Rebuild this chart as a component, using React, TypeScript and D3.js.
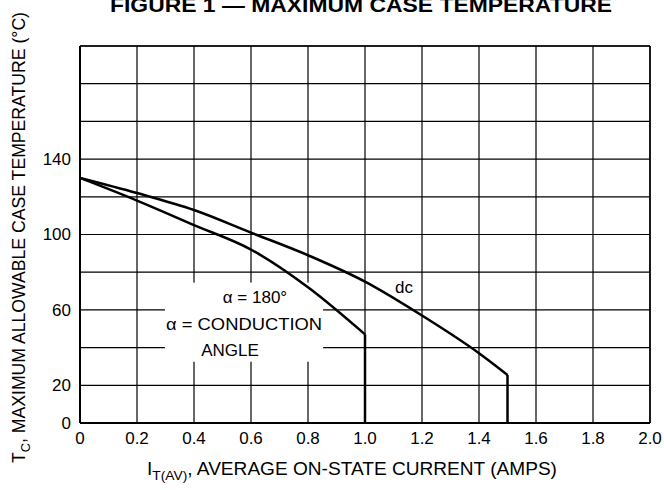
import React from "react";
import * as d3 from "d3";

const xTicks = [0, 0.2, 0.4, 0.6, 0.8, 1.0, 1.2, 1.4, 1.6, 1.8, 2.0];
const xTickLabels = ["0", "0.2", "0.4", "0.6", "0.8", "1.0", "1.2", "1.4", "1.6", "1.8", "2.0"];
const yGrid = [0, 20, 40, 60, 80, 100, 120, 140, 160, 180, 200];
const yTickLabels = [0, 20, 60, 100, 140];

const dcCurrent = [0, 0.2, 0.4, 0.6, 0.8, 1.0, 1.2, 1.4, 1.5];
const dcTemp = [130, 122, 113, 101, 89, 75, 57, 37, 25.5];
const a180Current = [0, 0.2, 0.4, 0.6, 0.8, 1.0];
const a180Temp = [130, 118, 105, 92, 72, 47];

const W = 664;
const H = 490;
const FONT = "'Liberation Sans', Arial, Helvetica, sans-serif";

export default function App() {
  const x = d3.scaleLinear().domain([0, 2]).range([80, 650]);
  const y = d3.scaleLinear().domain([0, 200]).range([423, 46]);

  const line = d3
    .line<[number, number]>()
    .x((d) => x(d[0]))
    .y((d) => y(d[1]))
    .curve(d3.curveMonotoneX);
  const straight = d3
    .line<[number, number]>()
    .x((d) => x(d[0]))
    .y((d) => y(d[1]));

  const dcPts = dcCurrent.map((c, i) => [c, dcTemp[i]] as [number, number]);
  const aPts = a180Current.map((c, i) => [c, a180Temp[i]] as [number, number]);
  const dcLast = dcPts[dcPts.length - 1];
  const aLast = aPts[aPts.length - 1];

  return (
    <svg width={W} height={H} style={{ position: "absolute", left: 0, top: 0, background: "#fff" }} fontFamily={FONT}>
      <rect x={0} y={0} width={W} height={H} fill="#fff" />
      {/* grid */}
      {xTicks.map((t) => (
        <line key={"gx" + t} x1={x(t)} x2={x(t)} y1={y(200)} y2={y(0)} stroke="#000" strokeWidth={1.2} />
      ))}
      {yGrid.map((t) => (
        <line key={"gy" + t} x1={x(0)} x2={x(2)} y1={y(t)} y2={y(t)} stroke="#000" strokeWidth={1.2} />
      ))}
      {/* annotation box */}
      <rect x={x(0.298)} y={y(74.5)} width={x(0.853) - x(0.298)} height={y(32.5) - y(74.5)} fill="#fff" />
      {/* border */}
      <line x1={x(0)} x2={x(0)} y1={y(200)} y2={y(0)} stroke="#000" strokeWidth={2} />
      <line x1={x(0)} x2={x(2)} y1={y(0)} y2={y(0)} stroke="#000" strokeWidth={2} />
      <line x1={x(2)} x2={x(2)} y1={y(200)} y2={y(0)} stroke="#000" strokeWidth={1.5} />
      <line x1={x(0)} x2={x(2)} y1={y(200)} y2={y(200)} stroke="#000" strokeWidth={1.5} />
      {/* curves */}
      <path d={line(dcPts) || ""} fill="none" stroke="#000" strokeWidth={2.5} />
      <path d={straight([dcLast, [dcLast[0], 0]]) || ""} fill="none" stroke="#000" strokeWidth={2.5} />
      <path d={line(aPts) || ""} fill="none" stroke="#000" strokeWidth={2.5} />
      <path d={straight([aLast, [aLast[0], 0]]) || ""} fill="none" stroke="#000" strokeWidth={2.5} />
      {/* annotations */}
      <text x={x(0.614)} y={y(63.7)} fontSize={17} textAnchor="middle">α = 180°</text>
      <text x={x(0.302)} y={y(49.3)} fontSize={17} textLength={156} lengthAdjust="spacingAndGlyphs">α = CONDUCTION</text>
      <text x={x(0.425)} y={y(35.5)} fontSize={17}>ANGLE</text>
      <text x={x(1.105)} y={y(69)} fontSize={17}>dc</text>
      {/* x tick labels */}
      {xTicks.map((t, i) => (
        <text key={"xl" + t} x={x(t)} y={444} fontSize={17} textAnchor="middle">{xTickLabels[i]}</text>
      ))}
      {/* y tick labels */}
      {yTickLabels.map((t) => (
        <text key={"yl" + t} x={71} y={y(t)} dy="0.35em" fontSize={17} textAnchor="end">{t}</text>
      ))}
      {/* title */}
      <text x={110} y={12} fontSize={20} fontWeight="bold" textLength={502} lengthAdjust="spacingAndGlyphs">
        FIGURE 1 — MAXIMUM CASE TEMPERATURE
      </text>
      {/* x label */}
      <text x={147} y={475} fontSize={18} textLength={410} lengthAdjust="spacingAndGlyphs">
        I<tspan fontSize={13} dy={5}>T(AV)</tspan><tspan dy={-5}>, AVERAGE ON-STATE CURRENT (AMPS)</tspan>
      </text>
      {/* y label */}
      <text transform={`translate(25,463) rotate(-90)`} fontSize={18} textLength={451} lengthAdjust="spacingAndGlyphs">
        T<tspan fontSize={13} dy={5}>C</tspan><tspan dy={-5}>, MAXIMUM ALLOWABLE CASE TEMPERATURE (°C)</tspan>
      </text>
    </svg>
  );
}
